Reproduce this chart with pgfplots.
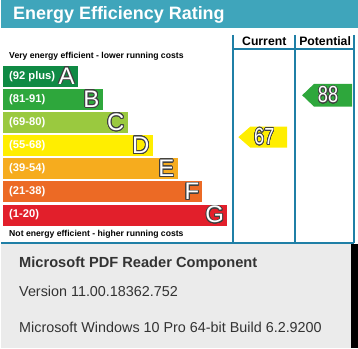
\documentclass[border=0pt]{standalone}
\usepackage{pgfplots}
\pgfplotsset{compat=1.18}
\usepackage{fontspec}
\setmainfont{Liberation Sans}
\usepackage{contour}
\contourlength{0.6pt}
\contournumber{24}
\definecolor{titlebar}{HTML}{3FA5BB}
\definecolor{frame}{HTML}{1F7FA6}
\definecolor{cA}{HTML}{0F8A44}
\definecolor{cB}{HTML}{2EA73C}
\definecolor{cC}{HTML}{9AC93F}
\definecolor{cD}{HTML}{FFEE00}
\definecolor{cE}{HTML}{F6AC1E}
\definecolor{cF}{HTML}{EC6A25}
\definecolor{cG}{HTML}{E21F2B}
\definecolor{panel}{HTML}{EBEBEB}
\definecolor{ptext}{HTML}{333333}
\definecolor{outl}{HTML}{404040}
\newcommand{\olet}[1]{\contour{outl}{\textcolor{white}{#1}}}
\tikzset{blab/.style={anchor=west, inner sep=0pt, text=white, font=\fontsize{8.4}{9}\selectfont\bfseries},
  bletter/.style={anchor=east, inner sep=0pt, font=\fontsize{18}{18}\selectfont}}
\begin{document}
\begin{tikzpicture}
\begin{axis}[width=268.5pt, height=261.75pt, scale only axis,
  xmin=0, xmax=358, ymin=0, ymax=349, y dir=reverse,
  hide axis, clip=false]
% title bar
\addplot[fill=titlebar, draw=none] coordinates {(0,0) (358,0) (358,28) (0,28)} --cycle;
% lower panel
\addplot[fill=panel, draw=none] coordinates {(0,245) (351,245) (351,349) (0,349)} --cycle;
\addplot[fill=black, draw=none] coordinates {(351,245) (358,245) (358,349) (351,349)} --cycle;
% bands
\addplot[fill=cA, draw=none] coordinates {(2,66) (77,66) (77,87) (2,87)} --cycle;
\addplot[fill=cB, draw=none] coordinates {(2,89.2) (102,89.2) (102,110.2) (2,110.2)} --cycle;
\addplot[fill=cC, draw=none] coordinates {(2,112.4) (127,112.4) (127,133.4) (2,133.4)} --cycle;
\addplot[fill=cD, draw=none] coordinates {(2,135.6) (152,135.6) (152,156.6) (2,156.6)} --cycle;
\addplot[fill=cE, draw=none] coordinates {(2,158.8) (177,158.8) (177,179.8) (2,179.8)} --cycle;
\addplot[fill=cF, draw=none] coordinates {(2,182) (202,182) (202,203) (2,203)} --cycle;
\addplot[fill=cG, draw=none] coordinates {(2,205.2) (227,205.2) (227,226.2) (2,226.2)} --cycle;
% arrows
\addplot[fill=cD, draw=none] coordinates {(238,137.5) (250,127) (287,127) (287,148) (250,148)} --cycle;
\addplot[fill=cB, draw=none] coordinates {(302,95.5) (314,84) (352,84) (352,107) (314,107)} --cycle;
% frame
\addplot[draw=frame, line width=1.5pt] coordinates {(233,35) (233,244)};
\addplot[draw=frame, line width=1.5pt] coordinates {(295,35) (295,244)};
\addplot[draw=frame, line width=1.5pt] coordinates {(354,35) (354,244)};
\addplot[draw=frame, line width=1.5pt] coordinates {(233,49) (354,49)};
\addplot[draw=frame, line width=1.5pt] coordinates {(0,244) (354,244)};
% texts
\node[anchor=base west, inner sep=0pt, text=white, font=\fontsize{13.5}{14}\selectfont\bfseries] at (axis cs:12,19.5) {Energy Efficiency Rating};
\node[anchor=base, inner sep=0pt, font=\fontsize{9.2}{10}\selectfont\bfseries] at (axis cs:264,46) {Current};
\node[anchor=base, inner sep=0pt, font=\fontsize{9.2}{10}\selectfont\bfseries] at (axis cs:325,46) {Potential};
\node[anchor=base west, inner sep=0pt, font=\fontsize{6.5}{7}\selectfont\bfseries] at (axis cs:8,59) {Very energy efficient - lower running costs};
\node[anchor=base west, inner sep=0pt, font=\fontsize{6.5}{7}\selectfont\bfseries] at (axis cs:8,237.5) {Not energy efficient - higher running costs};
\node[blab] at (axis cs:8,76.5) {(92 plus)};
\node[blab] at (axis cs:8,99.7) {(81-91)};
\node[blab] at (axis cs:8,122.9) {(69-80)};
\node[blab] at (axis cs:8,146.1) {(55-68)};
\node[blab] at (axis cs:8,169.3) {(39-54)};
\node[blab] at (axis cs:8,192.5) {(21-38)};
\node[blab] at (axis cs:8,215.7) {(1-20)};
\node[bletter] at (axis cs:74,76.5) {\olet{A}};
\node[bletter] at (axis cs:99,99.7) {\olet{B}};
\node[bletter] at (axis cs:124,122.9) {\olet{C}};
\node[bletter] at (axis cs:149,146.1) {\olet{D}};
\node[bletter] at (axis cs:174,169.3) {\olet{E}};
\node[bletter] at (axis cs:199,192.5) {\olet{F}};
\node[bletter] at (axis cs:224,215.7) {\olet{G}};
\node[inner sep=0pt, xscale=0.78, font=\fontsize{17.5}{17.5}\selectfont] at (axis cs:264,137.5) {\olet{67}};
\node[inner sep=0pt, xscale=0.78, font=\fontsize{17.5}{17.5}\selectfont] at (axis cs:328,95.5) {\olet{88}};
% panel texts
\node[anchor=base west, inner sep=0pt, text=ptext, font=\fontsize{11}{12}\selectfont\bfseries] at (axis cs:18,268) {Microsoft PDF Reader Component};
\node[anchor=base west, inner sep=0pt, text=ptext, font=\fontsize{10.8}{12}\selectfont] at (axis cs:18,297) {Version 11.00.18362.752};
\node[anchor=base west, inner sep=0pt, text=ptext, font=\fontsize{10.8}{12}\selectfont] at (axis cs:18,333) {Microsoft Windows 10 Pro 64-bit Build 6.2.9200};
\end{axis}
\end{tikzpicture}
\end{document}
